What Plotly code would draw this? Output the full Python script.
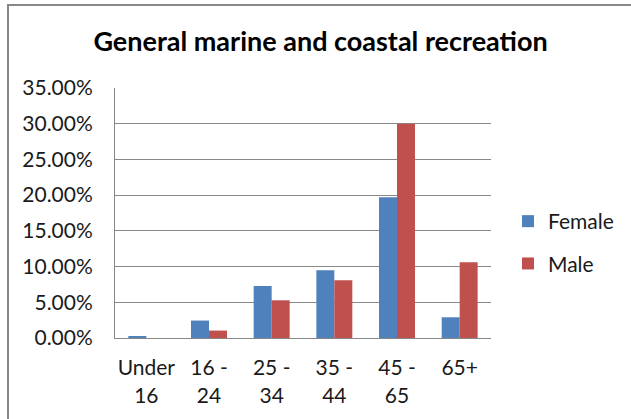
import plotly.graph_objects as go

categories = ["Under<br>16", "16 -<br>24", "25 -<br>34", "35 -<br>44", "45 -<br>65", "65+"]
female = [0.0025, 0.0244, 0.0728, 0.0948, 0.197, 0.029]
male = [0.0, 0.0104, 0.0528, 0.0808, 0.300, 0.106]
tick_vals = [0, 0.05, 0.10, 0.15, 0.20, 0.25, 0.30, 0.35]
tick_text = ["0.00%", "5.00%", "10.00%", "15.00%", "20.00%", "25.00%", "30.00%", "35.00%"]

W, H = 631, 419
L, R, T, B = 115, 140, 88, 81
pw, ph = W - L - R, H - T - B

fig = go.Figure()
fig.add_trace(go.Bar(name="Female", x=categories, y=female, marker_color="#4F81BD",
                     marker_line_width=0, legendgroup="f"))
fig.add_trace(go.Bar(name="Male", x=categories, y=male, marker_color="#C0504D",
                     marker_line_width=0, legendgroup="m"))

font = "Lato, 'Open Sans', sans-serif"
fig.update_layout(
    width=W, height=H,
    margin=dict(l=L, r=R, t=T, b=B, autoexpand=False),
    paper_bgcolor="white", plot_bgcolor="white",
    barmode="group", bargap=0.426, bargroupgap=0,
    font=dict(family=font, size=21, color="#1a1a1a"),
    title=dict(text="<b>General marine and coastal recreation</b>", x=0.508, xanchor="center",
               y=1 - 42 / H, yanchor="middle", font=dict(size=27, color="#000000")),
    legend=dict(x=(508 - L) / pw, xanchor="left", y=(H - B - 242.5) / ph,
                yanchor="middle", font=dict(size=21, color="#1a1a1a"),
                itemsizing="constant", tracegroupgap=12, bgcolor="rgba(0,0,0,0)",
                itemwidth=30),
    showlegend=True,
)
fig.update_yaxes(range=[0, 0.35], tickvals=tick_vals, ticktext=tick_text,
                 showgrid=True, gridcolor="#888888", gridwidth=1,
                 showline=True, linecolor="#888888", linewidth=1,
                 zeroline=False, ticks="", ticklen=0, ticklabelstandoff=17,
                 tickfont=dict(size=21))
fig.update_xaxes(showline=True, linecolor="#888888", linewidth=1, ticks="",
                 tickfont=dict(size=21), ticklabelstandoff=11)

# outer chart border
fig.add_shape(type="rect", xref="paper", yref="paper",
              x0=(8 - L) / pw, x1=(W + 10 - L) / pw,
              y0=-(B + 10) / ph, y1=1 + (T - 5) / ph,
              line=dict(color="#888888", width=2), fillcolor="rgba(0,0,0,0)", layer="below")

fig.write_html("out.html")
